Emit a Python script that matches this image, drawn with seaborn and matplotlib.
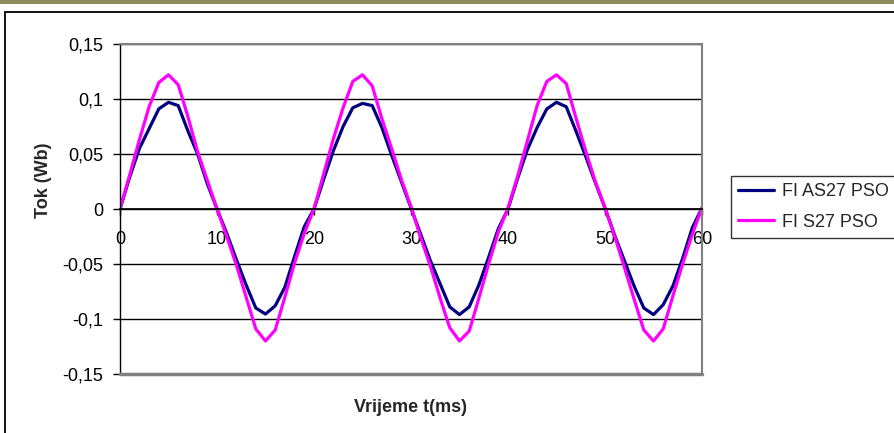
import numpy as np
import pandas as pd
import seaborn as sns
import matplotlib.pyplot as plt
from matplotlib.patches import Rectangle

# values (1 ms steps)
time_ms = list(range(0, 61))

fi_as27 = [0, 0.029, 0.055, 0.073, 0.091, 0.097, 0.094, 0.071, 0.050, 0.023,
           0, -0.022, -0.046, -0.069, -0.090, -0.0955, -0.088, -0.071, -0.043, -0.016,
           0, 0.027, 0.053, 0.075, 0.092, 0.096, 0.094, 0.074, 0.049, 0.025,
           0.001, -0.023, -0.047, -0.068, -0.089, -0.096, -0.089, -0.069, -0.044, -0.018,
           0, 0.028, 0.054, 0.074, 0.091, 0.097, 0.093, 0.071, 0.048, 0.024,
           0.001, -0.024, -0.047, -0.070, -0.090, -0.096, -0.087, -0.070, -0.045, -0.017,
           0.001]

fi_s27 = [0, 0.031, 0.063, 0.093, 0.115, 0.122, 0.113, 0.084, 0.052, 0.026,
          0, -0.025, -0.051, -0.080, -0.109, -0.120, -0.110, -0.080, -0.049, -0.022,
          0, 0.032, 0.064, 0.092, 0.116, 0.122, 0.112, 0.082, 0.055, 0.027,
          0.002, -0.026, -0.052, -0.081, -0.108, -0.120, -0.111, -0.081, -0.050, -0.021,
          0.001, 0.030, 0.062, 0.094, 0.116, 0.122, 0.114, 0.083, 0.053, 0.025,
          0.001, -0.025, -0.053, -0.082, -0.110, -0.120, -0.109, -0.079, -0.050, -0.023,
          0.001]

series_names = ["FI AS27 PSO", "FI S27 PSO"]
line_colors = ["#000080", "#FF00FF"]

x_ticks = [0, 10, 20, 30, 40, 50, 60]
y_ticks = [-0.15, -0.1, -0.05, 0, 0.05, 0.1, 0.15]
y_tick_labels = ["-0,15", "-0,1", "-0,05", "0", "0,05", "0,1", "0,15"]

df = pd.DataFrame({
    "t": time_ms * 2,
    "flux": fi_as27 + fi_s27,
    "series": [series_names[0]] * len(time_ms) + [series_names[1]] * len(time_ms),
})

sns.set_theme(style="white")
plt.rcParams["font.family"] = ["Liberation Sans", "DejaVu Sans"]
fs = 13

W, H = 894, 433
fig = plt.figure(figsize=(W / 100, H / 100), dpi=100)
ax = fig.add_axes([120 / W, 1 - 374 / H, (702 - 120) / W, (374 - 44) / H])

sns.lineplot(data=df, x="t", y="flux", hue="series", palette=line_colors,
             linewidth=2.3, ax=ax, legend=True)
for line in ax.get_lines():
    line.set_solid_joinstyle("round")
    line.set_solid_capstyle("round")

ax.set_xlim(0, 60)
ax.set_ylim(-0.15, 0.15)
ax.set_xlabel("")
ax.set_ylabel("")

ax.yaxis.grid(True, color="black", linewidth=1)
ax.xaxis.grid(False)
ax.set_axisbelow(True)

# plot-area frame: grey, x axis crossing at zero
for side in ["top", "right"]:
    ax.spines[side].set_color("#808080")
    ax.spines[side].set_linewidth(1.5)
ax.spines["left"].set_color("black")
ax.spines["left"].set_linewidth(1)
ax.spines["bottom"].set_position(("data", 0))
ax.spines["bottom"].set_color("black")
ax.axhline(-0.15, color="#808080", linewidth=2.5, clip_on=False, zorder=3)

ax.set_yticks(y_ticks)
ax.set_yticklabels(y_tick_labels)
ax.set_xticks(x_ticks)
ax.set_xticklabels([str(v) for v in x_ticks])

ax.tick_params(axis="y", direction="out", length=5, width=1, color="black",
               pad=7, left=True, labelsize=fs, labelcolor="black")
ax.tick_params(axis="x", direction="out", length=4, width=1, color="black",
               pad=12, bottom=True, labelsize=fs, labelcolor="black")

fig.text(43 / W, 1 - 180 / H, "Tok (Wb)", rotation=90, ha="center", va="center",
         fontsize=fs, fontweight="bold")
fig.text(411 / W, 1 - 408 / H, "Vrijeme t(ms)", ha="center", va="center",
         fontsize=fs, fontweight="bold")

handles, labels = ax.get_legend_handles_labels()
leg = ax.legend(handles, labels, loc="upper left",
                bbox_to_anchor=(731 / W, 1 - 176 / H), bbox_transform=fig.transFigure,
                fontsize=fs, frameon=True, fancybox=False, handlelength=2.0,
                handletextpad=0.4, borderpad=0.4, labelspacing=0.75, borderaxespad=0)
leg.get_frame().set_edgecolor("black")
leg.get_frame().set_linewidth(1)
for line in leg.get_lines():
    line.set_linewidth(2.3)

# chart-area border and top strip
fig.patches.append(Rectangle((5 / W, -0.1), 1.2, 1 - 12 / H + 0.1, transform=fig.transFigure,
                             fill=False, edgecolor="black", linewidth=1.3))
fig.patches.append(Rectangle((0, 1 - 4 / H), 1, 4 / H, transform=fig.transFigure,
                             facecolor="#8c8c60", edgecolor="none"))

fig.savefig("out.png", dpi=100)
